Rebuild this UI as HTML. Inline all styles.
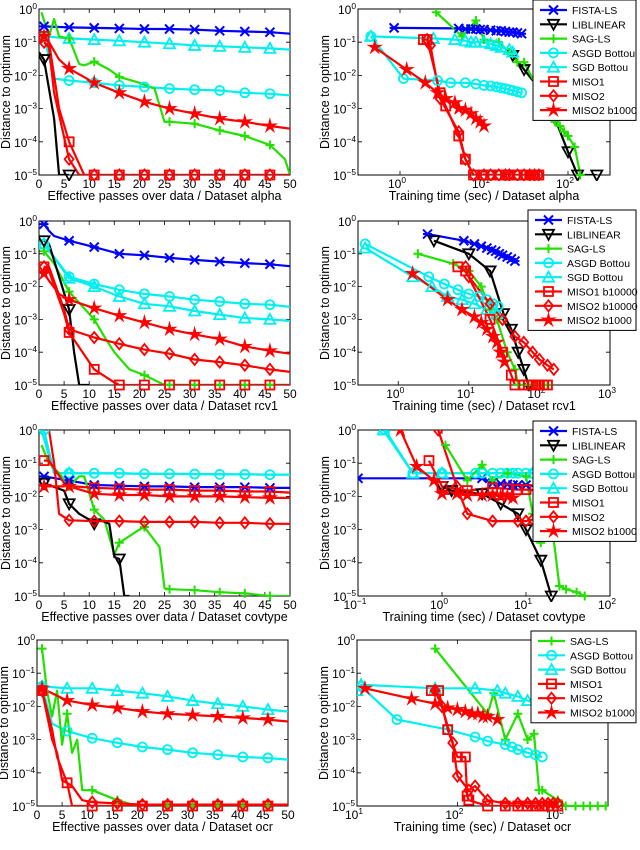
<!DOCTYPE html>
<html><head><meta charset="utf-8"><style>
html,body{margin:0;padding:0;background:#fff}
svg{display:block;font-family:"Liberation Sans",sans-serif}
</style></head><body>
<svg id="fig" width="640" height="850" viewBox="0 0 640 850" xmlns="http://www.w3.org/2000/svg"></svg>
<script>
// ---- data (x values, y = distance to optimum) ----
const seriesNames = ["FISTA-LS","LIBLINEAR","SAG-LS","ASGD Bottou","SGD Bottou","MISO1","MISO2","MISO2 b1000"];
const yTickExps = [0,-1,-2,-3,-4,-5];
const xTicksPasses = [0,5,10,15,20,25,30,35,40,45,50];

// Row 1: alpha
const a_fista_x=[1,6,11,16,21,26,31,36,41,46,50], a_fista_y=[0.3,0.28,0.27,0.26,0.25,0.25,0.24,0.22,0.21,0.2,0.18];
const a_lib_x=[0,1,3,4,6], a_lib_y=[0.05,0.03,0.0005,1e-5,1e-5];
const a_sag_x=[0.5,2,3,4,6,8,9,11,14,16,20,23,25,26,31,36,41,46,49,50], a_sag_y=[0.8,0.15,0.5,0.15,0.13,0.022,0.02,0.026,0.015,0.009,0.006,0.004,0.0004,0.0004,0.00035,0.00022,0.00015,0.00008,0.00003,1e-5];
const a_asgd_x=[0,1,3,6,11,16,21,26,31,36,41,46,50], a_asgd_y=[0.12,0.15,0.008,0.007,0.006,0.005,0.0045,0.004,0.0037,0.0035,0.003,0.0028,0.0025];
const a_sgd_x=[0,1,6,11,16,21,26,31,36,41,46,50], a_sgd_y=[0.14,0.15,0.13,0.12,0.11,0.1,0.09,0.08,0.075,0.07,0.065,0.06];
const a_m1_x=[1,2,4,6,9,11,16,21,26,31,36,41,46,50], a_m1_y=[0.15,0.1,0.001,0.0001,1e-5,1e-5,1e-5,1e-5,1e-5,1e-5,1e-5,1e-5,1e-5,1e-5];
const a_m2_x=[1,2,3,6,8,11,16,21,26,31,36,41,46,50], a_m2_y=[0.1,0.07,0.003,0.00003,1e-5,1e-5,1e-5,1e-5,1e-5,1e-5,1e-5,1e-5,1e-5,1e-5];
const a_st_x=[1,2,4,6,11,16,21,26,31,36,41,46,50], a_st_y=[0.15,0.1,0.03,0.016,0.006,0.003,0.0016,0.001,0.0007,0.0005,0.0004,0.0003,0.00025];

const at_fista_x=[0.85,5,6,7,8,9,10,12,14,16,18,20,22,25,28], at_fista_y=[0.27,0.26,0.25,0.25,0.25,0.24,0.24,0.23,0.22,0.22,0.21,0.2,0.2,0.19,0.18];
const at_lib_x=[22,30,50,70,100,130,220], at_lib_y=[0.04,0.015,0.003,0.0005,0.00005,1e-5,1e-5];
const at_sag_x=[2.7,5.5,8,10,15,20,25,30,70,80,90,100,120,140], at_sag_y=[0.8,0.15,0.45,0.12,0.1,0.05,0.025,0.025,0.0004,0.0003,0.0002,0.00015,0.00007,1e-5];
const at_asgd_x=[0.45,1.1,2.8,4,6,8,10,12,14,16,18,20,22,25,28], at_asgd_y=[0.15,0.008,0.007,0.006,0.006,0.0055,0.005,0.0048,0.0045,0.0042,0.004,0.0037,0.0035,0.0032,0.003];
const at_sgd_x=[0.45,2.5,4.5,6,7,8,10,12,14,16,20,22], at_sgd_y=[0.15,0.13,0.12,0.11,0.1,0.1,0.1,0.09,0.08,0.07,0.06,0.05];
const at_m1_x=[1.9,2.1,3,3.5,5,6,7.5,10,12,15,18,20,25,30,35,40,45], at_m1_y=[0.12,0.12,0.003,0.0012,0.00015,0.00003,1e-5,1e-5,1e-5,1e-5,1e-5,1e-5,1e-5,1e-5,1e-5,1e-5,1e-5];
const at_m2_x=[2.1,2.3,3,5,6,7.5,10,12,15,18,20,25,30,35,40,45], at_m2_y=[0.12,0.08,0.002,0.0002,0.00003,1e-5,1e-5,1e-5,1e-5,1e-5,1e-5,1e-5,1e-5,1e-5,1e-5,1e-5];
const at_st_x=[0.5,1.2,2,2.8,3.5,4.5,5,6,7,8,9,10], at_st_y=[0.07,0.015,0.006,0.003,0.002,0.0015,0.001,0.0009,0.0007,0.0005,0.0004,0.0003];

// Row 2: rcv1
const r_fista_x=[1,2,3,6,11,16,21,26,31,36,41,46,50], r_fista_y=[0.8,0.5,0.35,0.25,0.16,0.1,0.09,0.075,0.065,0.058,0.052,0.048,0.042];
const r_lib_x=[1,2,4,6,7,8,10], r_lib_y=[0.25,0.2,0.02,0.002,0.0001,1e-5,1e-5];
const r_sag_x=[1,3,6,11,13,15,18,21,25,26,31,36,41,46,50], r_sag_y=[0.12,0.05,0.007,0.001,0.0003,0.0001,0.00003,0.00002,1e-5,1e-5,1e-5,1e-5,1e-5,1e-5,1e-5];
const r_asgd_x=[1,6,11,16,21,26,31,36,41,46,50], r_asgd_y=[0.2,0.02,0.012,0.008,0.006,0.005,0.004,0.0035,0.003,0.0028,0.0024];
const r_sgd_x=[1,6,11,16,21,26,31,36,41,46,50], r_sgd_y=[0.2,0.018,0.01,0.005,0.003,0.0025,0.0018,0.0014,0.0011,0.001,0.0009];
const r_m1_x=[1,2,5,6,11,15,16,21,26,31,36,41,46,50], r_m1_y=[0.04,0.03,0.0015,0.0004,0.00003,1.2e-5,1e-5,1e-5,1e-5,1e-5,1e-5,1e-5,1e-5,1e-5];
const r_m2_x=[1,2,5,6,11,16,21,26,31,36,41,46,50], r_m2_y=[0.04,0.04,0.002,0.0005,0.00028,0.00018,0.00012,0.00009,0.00006,0.00005,0.00004,0.00003,0.000025];
const r_st_x=[1,2,4,6,11,16,21,26,31,36,41,46,50], r_st_y=[0.025,0.015,0.006,0.004,0.0022,0.0013,0.0008,0.0005,0.00035,0.00025,0.00015,0.00011,0.00009];

const rt_fista_x=[2.6,8.5,12,15,18,21,24,27,30,35,40,45], rt_fista_y=[0.4,0.25,0.2,0.17,0.15,0.13,0.12,0.1,0.09,0.08,0.07,0.06];
const rt_lib_x=[3.2,10,20,31,40,50,60,70], rt_lib_y=[0.25,0.1,0.03,0.0015,0.0005,0.0001,0.00003,1e-5];
const rt_sag_x=[1.9,6,10,15,20,25,35,45,50,60,70,80,90,100,115,130], rt_sag_y=[0.1,0.05,0.03,0.01,0.002,0.001,0.0001,0.00003,1e-5,1e-5,1e-5,1e-5,1e-5,1e-5,1e-5,1e-5];
const rt_asgd_x=[0.34,2.7,4.5,7,10,14,18,22,26], rt_asgd_y=[0.2,0.02,0.012,0.008,0.006,0.005,0.004,0.003,0.0025];
const rt_sgd_x=[0.34,1.6,3,5,8,12,18,25], rt_sgd_y=[0.15,0.02,0.01,0.005,0.004,0.003,0.002,0.0015];
const rt_m1_x=[7,9,20,30,40,45,60,70,80,90,100,115,130], rt_m1_y=[0.04,0.03,0.001,0.0001,0.00002,1e-5,1e-5,1e-5,1e-5,1e-5,1e-5,1e-5,1e-5];
const rt_m2_x=[9,10,20,30,45,60,80,100,130,160], rt_m2_y=[0.04,0.02,0.003,0.001,0.0003,0.0002,0.0001,0.00006,0.00004,0.00003];
const rt_st_x=[1.6,5,8,12,15,18,22,25,28,32], rt_st_y=[0.025,0.004,0.002,0.0012,0.0008,0.0005,0.0003,0.0002,0.0001,0.00005];

// Row 3: covtype
const c_fista_x=[1,6,11,16,21,26,31,36,41,46,50], c_fista_y=[0.04,0.03,0.022,0.021,0.02,0.02,0.019,0.019,0.019,0.018,0.018];
const c_lib_x=[1,5,6,8,10,11,12,14,15,16,17,18], c_lib_y=[0.025,0.015,0.006,0.003,0.002,0.0015,0.002,0.0015,0.00015,0.00013,1e-5,1e-5];
const c_sag_x=[0.5,2,4,6,8,9,11,13,15,16,20,21,24,25,26,31,36,41,46,50], c_sag_y=[0.35,0.1,0.05,0.02,0.04,0.04,0.004,0.002,0.00018,0.0004,0.001,0.0012,0.0003,0.000017,0.000016,0.000015,0.000013,0.000012,0.00001,0.00001];
const c_asgd_x=[1,3,6,11,16,21,26,31,36,41,46,50], c_asgd_y=[1,0.05,0.05,0.05,0.05,0.048,0.048,0.047,0.046,0.046,0.045,0.045];
const c_sgd_x=[0.5,3,6,50], c_sgd_y=[1,0.05,0.05,0.045];
const c_m1_x=[1,2,5,7,11,16,21,26,31,36,41,46,50], c_m1_y=[0.12,0.12,0.025,0.02,0.018,0.017,0.016,0.016,0.015,0.015,0.014,0.014,0.013];
const c_m2_x=[2,3,4,6,11,16,21,26,31,36,41,46,50], c_m2_y=[1,0.1,0.003,0.0019,0.0018,0.0018,0.0017,0.0017,0.0017,0.0016,0.0016,0.0015,0.0015];
const c_st_x=[1,6,11,16,21,26,31,36,41,46,50], c_st_y=[0.02,0.02,0.012,0.011,0.011,0.01,0.01,0.01,0.0095,0.009,0.009];

const ct_fista_x=[0.1,3,4,5,6,7,8,10,14], ct_fista_y=[0.035,0.035,0.025,0.024,0.023,0.022,0.022,0.022,0.02];
const ct_lib_x=[1,1.3,3,5,8,10,15,20], ct_lib_y=[0.02,0.015,0.012,0.006,0.003,0.001,0.00012,1e-5];
const ct_sag_x=[1.1,2,3,4,6,10,12,15,20,25,30,40,50], ct_sag_y=[0.35,0.03,0.09,0.03,0.05,0.04,0.003,0.0004,0.002,0.00002,0.000016,0.000013,0.00001];
const ct_asgd_x=[0.21,0.45,1,2.5,3,4,5,6,7,8,10,12], ct_asgd_y=[1,0.05,0.05,0.05,0.05,0.05,0.05,0.05,0.05,0.05,0.05,0.05];
const ct_sgd_x=[0.2,0.45,1,12], ct_sgd_y=[1,0.05,0.05,0.05];
const ct_m1_x=[0.7,1,2,4,6,8,10,14], ct_m1_y=[0.12,0.02,0.015,0.018,0.017,0.016,0.016,0.015];
const ct_m2_x=[0.9,1.5,2,4,8,10,12], ct_m2_y=[1,0.02,0.003,0.0018,0.0018,0.0018,0.002];
const ct_st_x=[0.32,0.5,0.8,1,1.5,2,3,4,5,6,7], ct_st_y=[1,0.08,0.03,0.012,0.012,0.011,0.011,0.011,0.01,0.01,0.009];

// Row 4: ocr
const o_sag_x=[1,2,3,4,5,6,7,8,9,11,16,20,26,31,36,41,46,50], o_sag_y=[0.55,0.03,0.005,0.03,0.0007,0.006,0.0004,0.001,0.00003,0.00003,0.000015,1e-5,1e-5,1e-5,1e-5,1e-5,1e-5,1e-5];
const o_asgd_x=[0,1,3,6,11,16,21,26,31,36,41,46,50], o_asgd_y=[0.03,0.04,0.003,0.0018,0.0011,0.0008,0.0006,0.0005,0.0004,0.00035,0.0003,0.00028,0.00025];
const o_sgd_x=[0,1,6,11,16,21,26,31,36,41,46,50], o_sgd_y=[0.03,0.04,0.035,0.035,0.03,0.025,0.02,0.015,0.012,0.01,0.008,0.007];
const o_m1_x=[1,3,4,6,7,11,16,21,26,31,36,41,46,50], o_m1_y=[0.03,0.002,0.0003,0.00005,1e-5,1e-5,1e-5,1e-5,1e-5,1e-5,1e-5,1e-5,1e-5,1e-5];
const o_m2_x=[1,3,4,5,7,9,11,16,21,26,31,36,41,46,50], o_m2_y=[0.03,0.001,0.0004,0.00006,0.00004,0.000015,0.000013,0.000012,1.1e-5,1.1e-5,1.1e-5,1.1e-5,1.1e-5,1.1e-5,1.1e-5];
const o_st_x=[1,3,6,11,16,21,26,31,36,41,46,50], o_st_y=[0.035,0.025,0.015,0.011,0.009,0.007,0.006,0.0055,0.005,0.0045,0.004,0.0035];

const ot_sag_x=[60,200,230,300,400,500,580,650,700,1000,1200,1500,1800,2100,2500,3000,3500], ot_sag_y=[0.55,0.006,0.025,0.001,0.006,0.001,0.0015,0.00003,0.00003,0.000015,1e-5,1e-5,1e-5,1e-5,1e-5,1e-5,1e-5];
const ot_asgd_x=[11,25,80,150,200,300,350,400,500,600,700], ot_asgd_y=[0.04,0.004,0.002,0.0012,0.0009,0.0007,0.0006,0.0005,0.0004,0.00035,0.0003];
const ot_sgd_x=[10,11,60,150,250,300,400,500,700,800], ot_sgd_y=[0.03,0.045,0.035,0.035,0.03,0.025,0.02,0.015,0.01,0.008];
const ot_m1_x=[55,65,80,100,120,125,130,200,300,400,500,600,700,800,900,1000], ot_m1_y=[0.03,0.03,0.002,0.0003,0.0003,0.00002,0.000015,1e-5,1e-5,1e-5,1e-5,1e-5,1e-5,1e-5,1e-5,1e-5];
const ot_m2_x=[60,70,90,100,130,150,200,300,400,500,600,700,800,900,1000], ot_m2_y=[0.03,0.01,0.0008,0.00008,0.00003,0.00004,0.000015,0.000012,1.2e-5,1.2e-5,1.2e-5,1.2e-5,1.2e-5,1.2e-5,1.2e-5];
const ot_st_x=[12,35,60,80,100,120,140,160,180,200,250], ot_st_y=[0.035,0.017,0.012,0.009,0.008,0.007,0.006,0.006,0.005,0.005,0.004];

// ---- rendering ----
const NS="http://www.w3.org/2000/svg";
const svg=document.getElementById('fig');
const STY={
 fista:{c:"#0000ff",m:"x",n:"FISTA-LS"}, lib:{c:"#000000",m:"v",n:"LIBLINEAR"}, sag:{c:"#22e000",m:"+",n:"SAG-LS"},
 asgd:{c:"#00f0f0",m:"o",n:"ASGD Bottou"}, sgd:{c:"#00f0f0",m:"^",n:"SGD Bottou"}, m1:{c:"#ff0000",m:"s",n:"MISO1"},
 m2:{c:"#ff0000",m:"d",n:"MISO2"}, st:{c:"#ff0000",m:"*",n:"MISO2 b1000"}};
function el(tag,attrs,parent){const e=document.createElementNS(NS,tag);for(const k in attrs)e.setAttribute(k,attrs[k]);(parent||svg).appendChild(e);return e;}
function marker(g,type,x,y,c){
 const r=4.5;let e;
 if(type==="o") e=el('circle',{cx:x,cy:y,r:r,fill:'none',stroke:c,'stroke-width':1.8},g);
 else if(type==="s") e=el('rect',{x:x-r,y:y-r,width:2*r,height:2*r,fill:'none',stroke:c,'stroke-width':1.8},g);
 else if(type==="d") e=el('polygon',{points:`${x},${y-r-1} ${x+r},${y} ${x},${y+r+1} ${x-r},${y}`,fill:'none',stroke:c,'stroke-width':1.8},g);
 else if(type==="^") e=el('polygon',{points:`${x},${y-r-1} ${x+r+1},${y+r} ${x-r-1},${y+r}`,fill:'none',stroke:c,'stroke-width':1.8},g);
 else if(type==="v") e=el('polygon',{points:`${x},${y+r+1} ${x+r+1},${y-r} ${x-r-1},${y-r}`,fill:'none',stroke:c,'stroke-width':1.8},g);
 else if(type==="+") e=el('path',{d:`M${x-r} ${y}H${x+r}M${x} ${y-r}V${y+r}`,stroke:c,'stroke-width':2},g);
 else if(type==="x") e=el('path',{d:`M${x-r} ${y-r}L${x+r} ${y+r}M${x-r} ${y+r}L${x+r} ${y-r}M${x-r} ${y}H${x+r}`,stroke:c,'stroke-width':2},g);
 else { let p=[];for(let i=0;i<10;i++){const a=-Math.PI/2+i*Math.PI/5,rr=i%2?r*0.5:r*1.5;p.push((x+rr*Math.cos(a)).toFixed(1)+','+(y+rr*Math.sin(a)).toFixed(1));}
   e=el('polygon',{points:p.join(' '),fill:c,stroke:c,'stroke-width':1},g);}
 
 
}
function text(str,x,y,anchor,size,parent,sup){
 const t=el('text',{x:x,y:y,'text-anchor':anchor,'font-size':size,fill:'#000'},parent);
 t.textContent=str;
 if(sup!==undefined){const s=el('tspan',{dy:-5,'font-size':size*0.7},t);s.textContent=sup;}
 return t;
}
function plot(name,box,xlog,xmin,xmax,xticks,xlabel,series,legend){
 const g=el('g',{});
 
 
 const L=box[0],T=box[1],R=box[2],B=box[3];
 const sx=xlog?(v=>L+(Math.log10(v)-xmin)/(xmax-xmin)*(R-L)):(v=>L+(v-xmin)/(xmax-xmin)*(R-L));
 const sy=v=>T+(-Math.log10(v))/5*(B-T);
 const cp=name.replace(/[^a-z0-9]/g,'')+'clip';
 const cl=el('clipPath',{id:cp},g);el('rect',{x:L,y:T,width:R-L,height:B-T},cl);
 const cpm=cp+'m';
 const clm=el('clipPath',{id:cpm},g);el('rect',{x:L,y:T,width:R-L,height:B-T+6},clm);
 const ax=el('rect',{x:L,y:T,width:R-L,height:B-T,fill:'#fff',stroke:'#000','stroke-width':1},g);
 
 
 yTickExps.forEach(e=>{const y=sy(Math.pow(10,e));
   el('path',{d:`M${L} ${y}h4M${R} ${y}h-4`,stroke:'#000','stroke-width':0.8},g);
   const t=text('10',L-2,y+5,'end',12,g,String(e).replace('-','\u2212'));
   
   });
 xticks.forEach(v=>{const x=xlog?sx(Math.pow(10,v)):sx(v);
   el('path',{d:`M${x} ${B}v-4M${x} ${T}v4`,stroke:'#000','stroke-width':0.8},g);
   const t=xlog?text('10',x-3,B+13,'middle',12,g,String(v).replace('-','\u2212')):text(String(v),x,B+13,'middle',12,g);
   
   });
 const xl=text(xlabel,(L+R)/2,B+25,'middle',12.5,g);
 
 
 const yl=text('Distance to optimum',0,0,'middle',12.5,g);
 yl.setAttribute('transform',`translate(${L-29},${(T+B)/2}) rotate(-90)`);
 
 
 const sg=el('g',{'clip-path':`url(#${cp})`},g);
 const mg=el('g',{'clip-path':`url(#${cpm})`},g);
 series.forEach(s=>{const st=STY[s.k];
   const pts=s.x.map((v,i)=>sx(v).toFixed(1)+','+sy(s.y[i]).toFixed(1)).join(' ');
   const pl=el('polyline',{points:pts,fill:'none',stroke:st.c,'stroke-width':2.2,'stroke-linejoin':'round'},sg);
   
   
   s.x.forEach((v,i)=>{ if(xlog || Math.abs((v-1)%5)<0.01) marker(mg,st.m,sx(v),sy(s.y[i]),st.c); });
 });
 if(legend){
   const lg=el('g',{},g);
   
   
   const h=legend.items.length*14.3+6;
   el('rect',{x:legend.x,y:legend.y,width:636-legend.x,height:h,fill:'#fff',stroke:'#000','stroke-width':1},lg);
   legend.items.forEach((it,i)=>{const st=STY[it[0]];const y=legend.y+10+i*14.3;
     const ent=el('g',{},lg);
     
     
     el('line',{x1:legend.x+7,x2:legend.x+34,y1:y,y2:y,stroke:st.c,'stroke-width':2.2},ent);
     marker(ent,st.m,legend.x+20.5,y,st.c);
     text(it[1],legend.x+39,y+4,'start',10.5,ent);});
 }
}
const S=(k,x,y)=>({k:k,x:x,y:y});
const leg8=[["fista","FISTA-LS"],["lib","LIBLINEAR"],["sag","SAG-LS"],["asgd","ASGD Bottou"],["sgd","SGD Bottou"],["m1","MISO1"],["m2","MISO2"],["st","MISO2 b1000"]];
const legR=[["fista","FISTA-LS"],["lib","LIBLINEAR"],["sag","SAG-LS"],["asgd","ASGD Bottou"],["sgd","SGD Bottou"],["m1","MISO1 b10000"],["m2","MISO2 b10000"],["st","MISO2 b1000"]];
const leg6=[["sag","SAG-LS"],["asgd","ASGD Bottou"],["sgd","SGD Bottou"],["m1","MISO1"],["m2","MISO2"],["st","MISO2 b1000"]];

plot('plot-alpha-passes',[39,9,290,175],false,0,50,xTicksPasses,'Effective passes over data / Dataset alpha',
 [S('fista',a_fista_x,a_fista_y),S('sgd',a_sgd_x,a_sgd_y),S('asgd',a_asgd_x,a_asgd_y),S('sag',a_sag_x,a_sag_y),S('lib',a_lib_x,a_lib_y),S('st',a_st_x,a_st_y),S('m1',a_m1_x,a_m1_y),S('m2',a_m2_x,a_m2_y)]);
plot('plot-alpha-time',[358,9,610,175],true,-0.5,2.5,[0,1,2],'Training time (sec) / Dataset alpha',
 [S('fista',at_fista_x,at_fista_y),S('lib',at_lib_x,at_lib_y),S('sag',at_sag_x,at_sag_y),S('asgd',at_asgd_x,at_asgd_y),S('sgd',at_sgd_x,at_sgd_y),S('st',at_st_x,at_st_y),S('m1',at_m1_x,at_m1_y),S('m2',at_m2_x,at_m2_y)],
 {x:533,y:0,items:leg8});

plot('plot-rcv1-passes',[39,221,290,385],false,0,50,xTicksPasses,'Effective passes over data / Dataset rcv1',
 [S('fista',r_fista_x,r_fista_y),S('asgd',r_asgd_x,r_asgd_y),S('sgd',r_sgd_x,r_sgd_y),S('sag',r_sag_x,r_sag_y),S('lib',r_lib_x,r_lib_y),S('st',r_st_x,r_st_y),S('m2',r_m2_x,r_m2_y),S('m1',r_m1_x,r_m1_y)]);
plot('plot-rcv1-time',[358,221,610,385],true,-0.57,3,[0,1,2,3],'Training time (sec) / Dataset rcv1',
 [S('fista',rt_fista_x,rt_fista_y),S('lib',rt_lib_x,rt_lib_y),S('sag',rt_sag_x,rt_sag_y),S('asgd',rt_asgd_x,rt_asgd_y),S('sgd',rt_sgd_x,rt_sgd_y),S('st',rt_st_x,rt_st_y),S('m1',rt_m1_x,rt_m1_y),S('m2',rt_m2_x,rt_m2_y)],
 {x:528,y:210,items:legR});

plot('plot-covtype-passes',[39,430,290,596],false,0,50,xTicksPasses,'Effective passes over data / Dataset covtype',
 [S('sgd',c_sgd_x,c_sgd_y),S('asgd',c_asgd_x,c_asgd_y),S('fista',c_fista_x,c_fista_y),S('sag',c_sag_x,c_sag_y),S('lib',c_lib_x,c_lib_y),S('m1',c_m1_x,c_m1_y),S('st',c_st_x,c_st_y),S('m2',c_m2_x,c_m2_y)]);
plot('plot-covtype-time',[358,430,610,596],true,-1,2,[-1,0,1,2],'Training time (sec) / Dataset covtype',
 [S('fista',ct_fista_x,ct_fista_y),S('sgd',ct_sgd_x,ct_sgd_y),S('asgd',ct_asgd_x,ct_asgd_y),S('sag',ct_sag_x,ct_sag_y),S('lib',ct_lib_x,ct_lib_y),S('m1',ct_m1_x,ct_m1_y),S('m2',ct_m2_x,ct_m2_y),S('st',ct_st_x,ct_st_y)],
 {x:533,y:421,items:leg8});

plot('plot-ocr-passes',[37,640,288,806],false,0,50,xTicksPasses,'Effective passes over data / Dataset ocr',
 [S('sgd',o_sgd_x,o_sgd_y),S('asgd',o_asgd_x,o_asgd_y),S('sag',o_sag_x,o_sag_y),S('st',o_st_x,o_st_y),S('m1',o_m1_x,o_m1_y),S('m2',o_m2_x,o_m2_y)]);
plot('plot-ocr-time',[357,640,608,806],true,1,3.5,[1,2,3],'Training time (sec) / Dataset ocr',
 [S('sag',ot_sag_x,ot_sag_y),S('sgd',ot_sgd_x,ot_sgd_y),S('asgd',ot_asgd_x,ot_asgd_y),S('st',ot_st_x,ot_st_y),S('m1',ot_m1_x,ot_m1_y),S('m2',ot_m2_x,ot_m2_y)],
 {x:531,y:631,items:leg6});
</script>
</body></html>
